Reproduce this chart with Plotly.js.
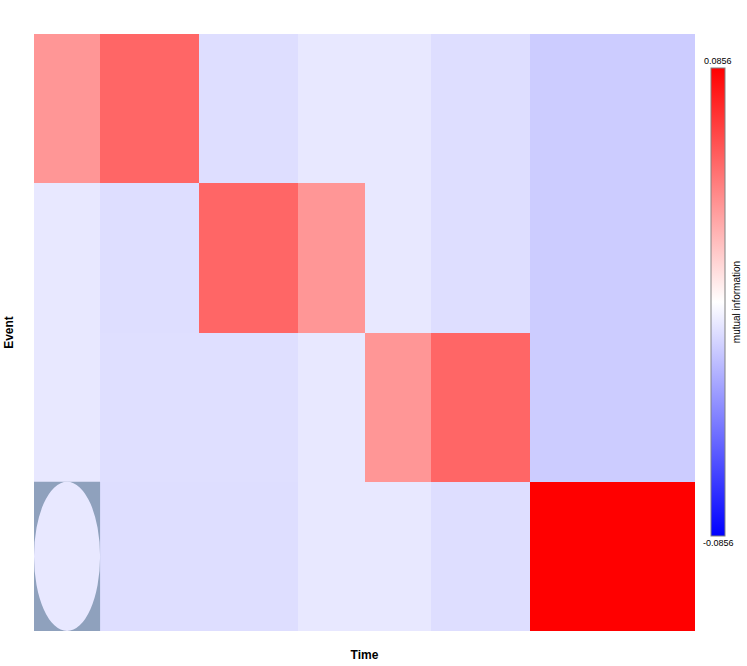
<!DOCTYPE html>
<html>
<head>
<meta charset="utf-8">
<script src="https://cdn.plot.ly/plotly-3.0.1.min.js"></script>
<style>
  body { margin: 0; padding: 0; background: #fff; }
  #chart { width: 747px; height: 666px; }
</style>
</head>
<body>
<div id="chart"></div>
<script>
// bords des colonnes (temps) : largeurs inégales
var timeEdges = [0, 2, 5, 8, 10, 12, 15, 20];
// bords des lignes (événements), de bas en haut
var eventEdges = [0, 1, 2, 3, 4];

// information mutuelle, une ligne par événement (du haut vers le bas)
var event1 = [0.0353, 0.0514, -0.0111, -0.0077, -0.0077, -0.0110, -0.0171];
var event2 = [-0.0077, -0.0111, 0.0514, 0.0353, -0.0077, -0.0110, -0.0171];
var event3 = [-0.0077, -0.0108, -0.0106, -0.0077, 0.0353, 0.0514, -0.0171];
var event4 = [-0.0077, -0.0111, -0.0111, -0.0077, -0.0077, -0.0111, 0.0856];

var zLimit = 0.0856;

// la heatmap se dessine de bas en haut
var zRows = [event4, event3, event2, event1];

var heat = {
  type: 'heatmap',
  x: timeEdges,
  y: eventEdges,
  z: zRows,
  zmin: -zLimit,
  zmax: zLimit,
  zsmooth: false,
  hoverinfo: 'skip',
  colorscale: [
    [0, 'rgb(0,0,255)'],
    [0.5, 'rgb(255,255,255)'],
    [1, 'rgb(255,0,0)']
  ],
  colorbar: {
    x: 1.0242,
    xanchor: 'left',
    xpad: 0,
    ypad: 0,
    y: 0.551,
    yanchor: 'middle',
    len: 0.784,
    lenmode: 'fraction',
    thickness: 14,
    thicknessmode: 'pixels',
    outlinewidth: 1,
    outlinecolor: '#808080',
    showticklabels: false,
    ticks: '',
    title: {
      text: 'mutual information',
      side: 'right',
      font: { family: 'Liberation Sans, Arial, sans-serif', size: 10, color: '#000' }
    }
  }
};

// case du coin inférieur gauche : fond gris et ellipse claire
var shapes = [
  {
    type: 'rect', xref: 'x', yref: 'y', layer: 'above',
    x0: timeEdges[0], x1: timeEdges[1], y0: eventEdges[0], y1: eventEdges[1],
    fillcolor: '#8fa1bd', line: { width: 0 }
  },
  {
    type: 'circle', xref: 'x', yref: 'y', layer: 'above',
    x0: timeEdges[0], x1: timeEdges[1], y0: eventEdges[0], y1: eventEdges[1],
    fillcolor: '#e8e8ff', line: { width: 0 }
  }
];

var cbFont = { family: 'Liberation Sans, Arial, sans-serif', size: 9, color: '#000' };

var layout = {
  width: 747,
  height: 666,
  margin: { l: 34, r: 52, t: 34, b: 35, autoexpand: false },
  paper_bgcolor: '#fff',
  plot_bgcolor: '#fff',
  showlegend: false,
  xaxis: {
    range: [timeEdges[0], timeEdges[timeEdges.length - 1]],
    showticklabels: false,
    ticks: '',
    showgrid: false,
    zeroline: false,
    showline: false,
    title: {
      text: '<b>Time</b>',
      standoff: 19,
      font: { family: 'Liberation Sans, Arial, sans-serif', size: 12, color: '#000' }
    }
  },
  yaxis: {
    range: [eventEdges[0], eventEdges[eventEdges.length - 1]],
    showticklabels: false,
    ticks: '',
    showgrid: false,
    zeroline: false,
    showline: false,
    title: {
      text: '<b>Event</b>',
      standoff: 16,
      font: { family: 'Liberation Sans, Arial, sans-serif', size: 12, color: '#000' }
    }
  },
  shapes: shapes,
  annotations: [
    {
      xref: 'paper', yref: 'paper', x: 1.0348, y: 0.943,
      xanchor: 'center', yanchor: 'bottom', showarrow: false,
      text: String(zLimit), font: cbFont
    },
    {
      xref: 'paper', yref: 'paper', x: 1.0348, y: 0.159,
      xanchor: 'center', yanchor: 'top', showarrow: false,
      text: String(-zLimit), font: cbFont
    }
  ]
};

Plotly.newPlot('chart', [heat], layout, { displayModeBar: false, staticPlot: true });
</script>
</body>
</html>
